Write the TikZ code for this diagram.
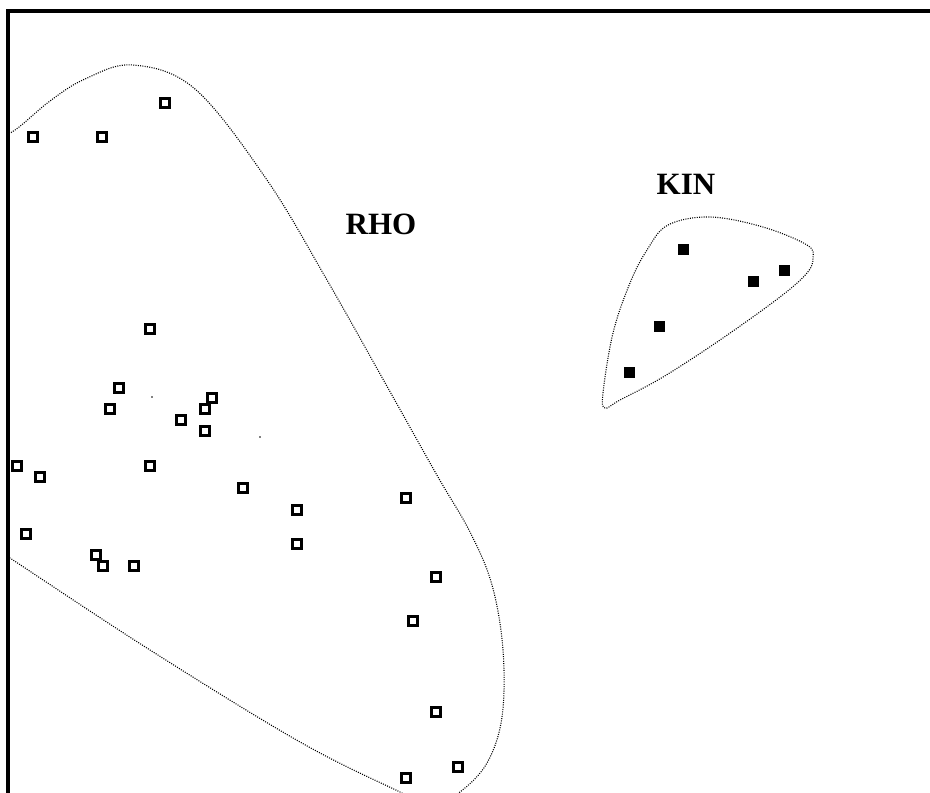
\documentclass[tikz,border=0pt]{standalone}
\usepackage{fontspec}
\setmainfont{Liberation Serif}
\begin{document}
\begin{tikzpicture}[x=1pt,y=-1pt,
  open/.style={draw=black,line width=2.2pt,fill=white,minimum size=9pt,inner sep=0pt,outer sep=0pt},
  filled/.style={fill=black,minimum size=11pt,inner sep=0pt,outer sep=0pt},
  hull/.style={draw=black,line width=1.1pt,dash pattern=on 1pt off 1.3pt},
  lbl/.style={font=\fontsize{31}{31}\selectfont\bfseries,inner sep=0pt}]
\useasboundingbox (0,0) rectangle (930,793);
\begin{scope}
\clip (9,12) rectangle (930,793);
% RHO hull
\draw[hull] plot[smooth,tension=0.6] coordinates {(-10,142) (15,130) (50,101) (85,79) (133,65) (195,89) (267,180) (327,280) (393,397) (438,477) (470,532) (492,585) (503,650) (502,717) (487,763) (460,792) (432,806) (400,792) (300,742) (150,650) (13,560) (-5,548)};
\end{scope}
% KIN hull
\draw[hull] plot[smooth cycle,tension=0.6] coordinates {(605,408) (603,393) (613,333) (630,283) (647,250) (668,225) (710,217) (763,227) (807,245) (813,258) (807,273) (780,297) (720,340) (663,377) (620,400)};
% frame
\draw[line width=3.5pt] (8,793) -- (8,11) -- (930,11);
% labels
\node[lbl] (rho) at (381,224) {RHO};
\node[lbl] (kin) at (686,184) {KIN};
% RHO points
\foreach \n/\x/\y in {r1/33/137,r2/102/137,r3/165/103,r4/150/329,r5/119/388,r6/110/409,r7/212/398,r8/205/409,r9/181/420,r10/205/431,r11/17/466,r12/40/477,r13/150/466,r14/243/488,r15/297/510,r16/297/544,r17/26/534,r18/96/555,r19/103/566,r20/134/566,r21/406/498,r22/436/577,r23/413/621,r24/436/712,r25/458/767,r26/406/778}
  \node[open] (\n) at (\x,\y) {};
% KIN points
\foreach \n/\x/\y in {k1/683/249,k2/753/281,k3/784/270,k4/659/326,k5/629/372}
  \node[filled] (\n) at (\x,\y) {};
% specks
\fill (152,397) circle (0.8);
\fill (260,437) circle (0.8);
\end{tikzpicture}
\end{document}
